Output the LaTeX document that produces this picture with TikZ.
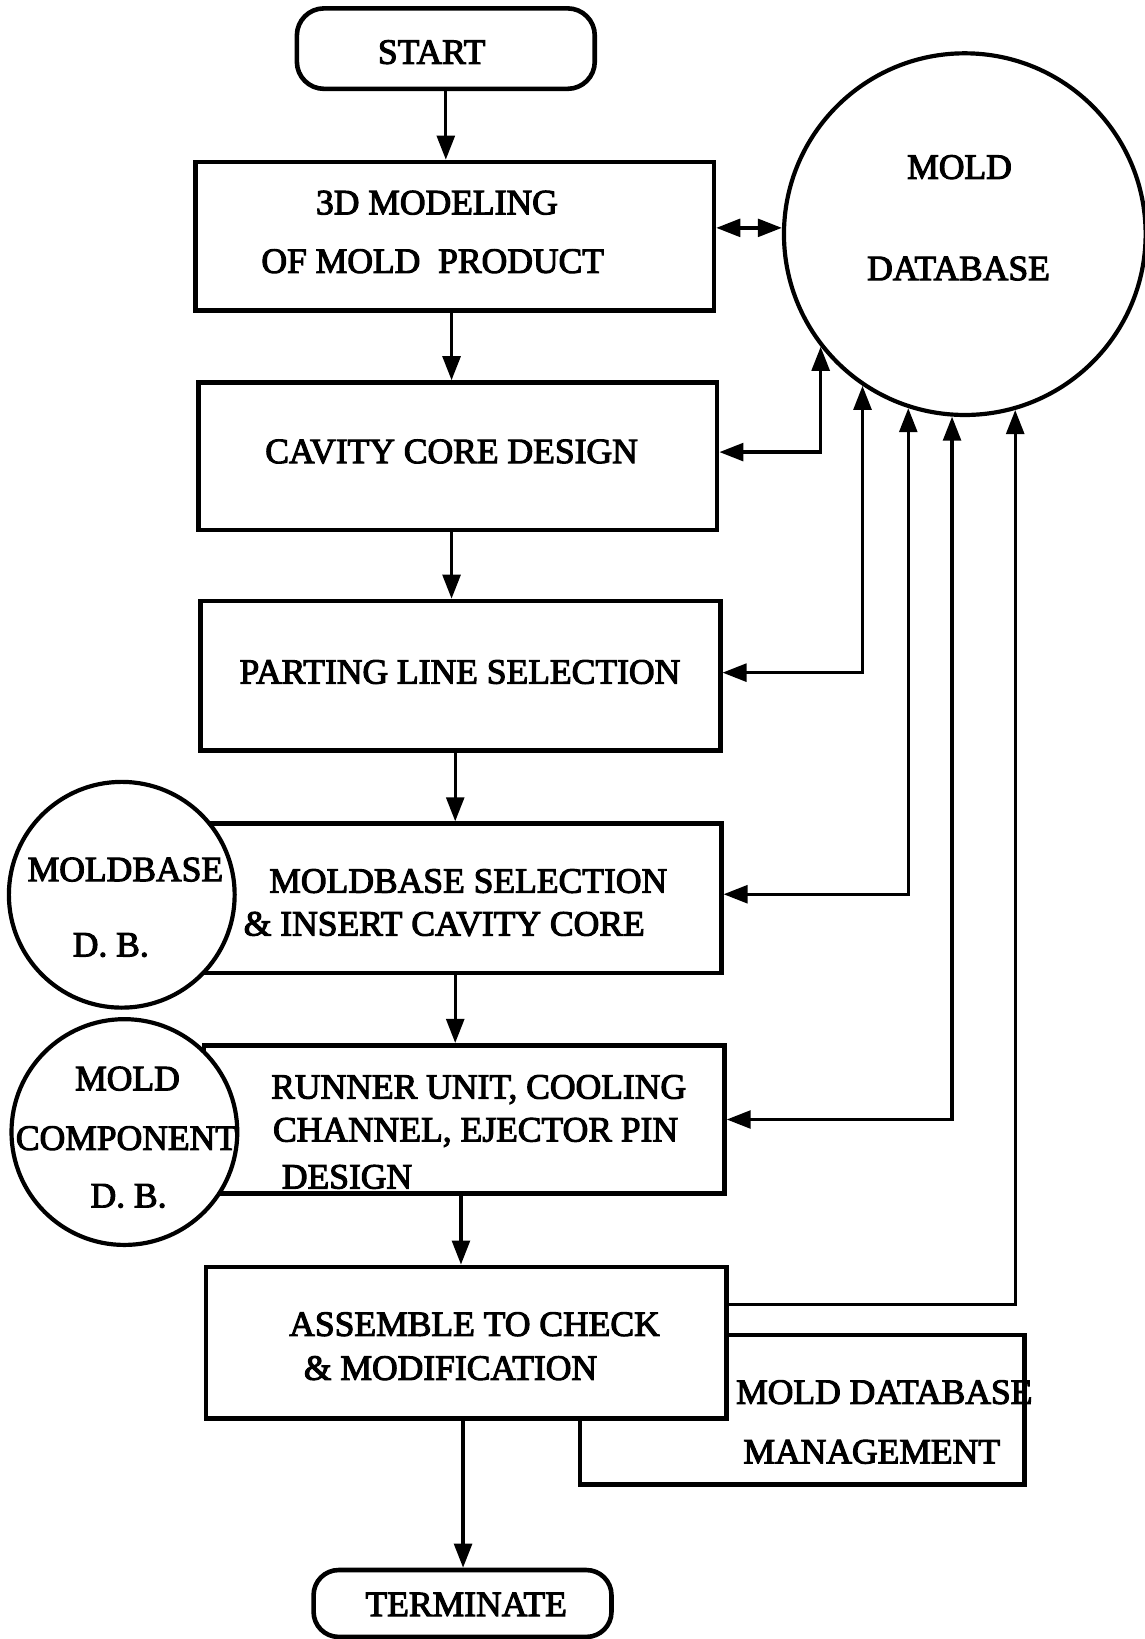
\documentclass[tikz,border=0pt]{standalone}
\usepackage{fontspec}
\newfontfamily\lblfont[FakeBold=3]{Liberation Serif}
\usetikzlibrary{arrows.meta,calc}

\begin{document}
\begin{tikzpicture}[x=1pt,y=-1pt,
  box/.style={draw,line width=4.4pt,fill=white,inner sep=0pt},
  term/.style={box,rounded corners=26pt},
  dbcirc/.style={draw,circle,line width=4pt,fill=white,inner sep=0pt},
  txt/.style={font=\lblfont\fontsize{34}{40}\selectfont,inner sep=0pt,anchor=base},
  tip/.tip={Triangle[length=23pt,width=17pt]},
  arr/.style={line width=3.2pt,-tip},
  dbl/.style={line width=3.2pt,tip-tip}]

\fill[white] (0,0) rectangle (1095,1568);
\useasboundingbox (0,0) rectangle (1095,1568);

% flow boxes
\node[term,minimum width=285pt,minimum height=77pt] (start) at (426.5,46.5) {};
\node[box,minimum width=496pt,minimum height=142pt] (m3d) at (435,226) {};
\node[box,minimum width=496pt,minimum height=141pt] (cav) at (438,436.5) {};
\node[box,minimum width=497pt,minimum height=143pt] (part) at (440.5,646.5) {};
\node[box,minimum width=495pt,minimum height=143pt] (mbs) at (442.5,859.5) {};
\node[box,minimum width=498pt,minimum height=142pt] (run) at (444,1071) {};
\node[box,minimum width=425pt,minimum height=143pt] (mgmt) at (767.5,1348.5) {};
\node[box,minimum width=498pt,minimum height=145pt] (asm) at (446,1284.5) {};
\node[term,minimum width=285pt,minimum height=64pt,rounded corners=24pt] (term) at (442.5,1534) {};

% databases
\node[dbcirc,minimum size=346pt] (db) at (923,224) {};
\node[dbcirc,minimum size=216pt] (mbdb) at (116.5,856) {};
\node[dbcirc,minimum size=216pt] (mcdb) at (119,1083) {};

% main flow
\draw[arr] (start.south) -- (start.south |- m3d.north);
\draw[arr] ([xshift=-3pt]m3d.south) -- ([xshift=-3pt]m3d.south |- cav.north);
\draw[arr] ([xshift=-6pt]cav.south) -- ([xshift=-6pt]cav.south |- part.north);
\draw[arr] ([xshift=-5pt]part.south) -- ([xshift=-5pt]part.south |- mbs.north);
\draw[arr] ([xshift=-7pt]mbs.south) -- ([xshift=-7pt]mbs.south |- run.north);
\draw[arr] ([xshift=-3pt]run.south) -- ([xshift=-3pt]run.south |- asm.north);
\draw[arr] ([xshift=-3pt]asm.south) -- ([xshift=-3pt]asm.south |- term.north);

% links with the mold database
\draw[dbl] ([yshift=8pt]m3d.east) -- ([yshift=8pt]m3d.east -| db.west);
\draw[dbl] ([yshift=4pt]cav.east) -| (db.218.2);
\draw[dbl] ([yshift=3pt]part.east) -| (db.236.3);
\draw[dbl] ([yshift=4pt]mbs.east) -| (db.252.2);
\draw[dbl] (run.east) -| (db.266.7);
\draw[arr] ([yshift=-38pt]asm.north east) -| (db.286.1);

% labels
\node[txt] (t-start) at (413,61) {START};
\node[txt] (t-m3d-a) at (418,205) {3D MODELING};
\node[txt] (t-m3d-b) at (414,261) {OF MOLD\ \ PRODUCT};
\node[txt] (t-db-a) at (918,171) {MOLD};
\node[txt] (t-db-b) at (917,268) {DATABASE};
\node[txt] (t-cav) at (432,443) {CAVITY CORE DESIGN};
\node[txt] (t-part) at (440,654) {PARTING LINE SELECTION};
\node[txt] (t-mbs-a) at (448,854) {MOLDBASE SELECTION};
\node[txt] (t-mbs-b) at (425,895) {\& INSERT CAVITY CORE};
\node[txt] (t-mbdb-a) at (120,843) {MOLDBASE};
\node[txt] (t-mbdb-b) at (106,915) {D. B.};
\node[txt] (t-run-a) at (458,1051) {RUNNER UNIT, COOLING};
\node[txt] (t-run-b) at (455,1092) {CHANNEL, EJECTOR PIN};
\node[txt] (t-run-c) at (332,1137) {DESIGN};
\node[txt] (t-mcdb-a) at (122,1043) {MOLD};
\node[txt] (t-mcdb-b) at (121,1100) {COMPONENT};
\node[txt] (t-mcdb-c) at (123,1155) {D. B.};
\node[txt] (t-asm-a) at (454,1278) {ASSEMBLE TO CHECK};
\node[txt] (t-asm-b) at (431,1320) {\& MODIFICATION};
\node[txt] (t-mgmt-a) at (846,1343) {MOLD DATABASE};
\node[txt] (t-mgmt-b) at (834,1400) {MANAGEMENT};
\node[txt] (t-term) at (446,1546) {TERMINATE};
\end{tikzpicture}
\end{document}
